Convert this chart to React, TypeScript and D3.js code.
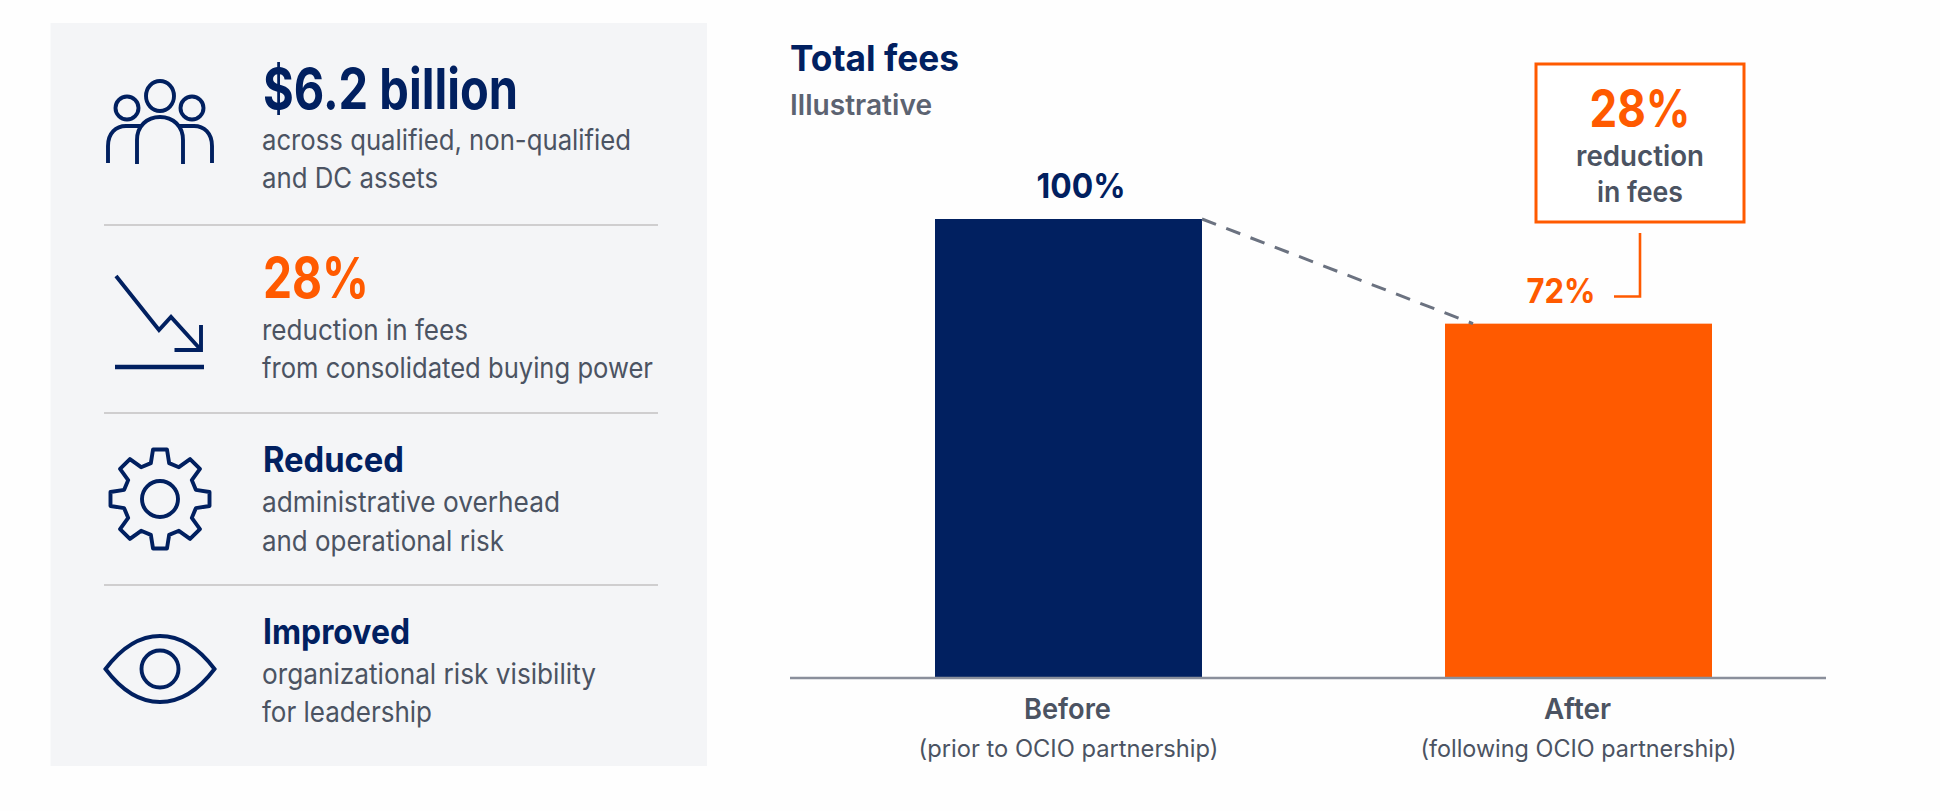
import React, { FC } from "react"
import { scaleBand, scaleLinear, line, range } from "d3"

// chart data
const categories = ["Before", "After"]
const categoryNotes = ["(prior to OCIO partnership)", "(following OCIO partnership)"]
// bar heights as drawn in the picture (the After bar is drawn taller than its 72% label)
const barHeights = [100, 77.2]
const barLabels = ["100%", "72%"]

const statHeads = ["$6.2 billion", "28%", "Reduced", "Improved"]
const statLines = [
  ["across qualified, non-qualified", "and DC assets"],
  ["reduction in fees", "from consolidated buying power"],
  ["administrative overhead", "and operational risk"],
  ["organizational risk visibility", "for leadership"],
]

const navy = "#012060"
const orange = "#ff5a00"
const gray = "#4b5362"
const font = "Inter, 'Noto Sans', sans-serif"

const gearPath = () => {
  const pts: [number, number][] = []
  range(8).forEach((i) => {
    const a = (i * Math.PI) / 4 - Math.PI / 2
    const at = (r: number, da: number): [number, number] => [
      Math.cos(a + da) * r,
      Math.sin(a + da) * r,
    ]
    pts.push(at(37, -0.25), at(50, -0.14), at(50, 0.14), at(37, 0.25))
  })
  return line()(pts) + "Z"
}

// text squeezed to the measured width, the reference face is narrower than Inter
const Label: FC<{
  x: number
  y: number
  w: number
  size: number
  weight?: number
  color?: string
  mid?: boolean
  children: string
}> = ({ x, y, w, size, weight = 400, color = gray, mid, children }) => (
  <text
    x={x}
    y={y}
    fontSize={size}
    fontWeight={weight}
    fill={color}
    textAnchor={mid ? "middle" : "start"}
    textLength={w}
    lengthAdjust="spacingAndGlyphs"
  >
    {children}
  </text>
)

const App: FC = () => {
  const x = scaleBand<string>().domain(categories).range([935, 1712]).paddingInner(0.4765)
  const y = scaleLinear().domain([0, 100]).range([678, 219])
  const iconStroke = { fill: "none", stroke: navy, strokeWidth: 3.9 }

  const heads = [
    { y: 109, size: 56, color: navy, w: 255 },
    { y: 298, size: 56, color: orange, w: 106 },
    { y: 472, size: 35, color: navy, w: 141 },
    { y: 644, size: 35, color: navy, w: 147 },
  ]
  const lineYs = [
    [150, 188],
    [340, 378],
    [512, 551],
    [684, 722],
  ]
  const lineWs = [
    [369, 176],
    [206, 391],
    [298, 242],
    [334, 170],
  ]
  const noteWs = [300, 316]
  const catWs = [87, 67]

  const barRight = x("Before")! + x.bandwidth()
  const dashEnd = x("After")! + 28

  return (
    <svg
      width={1940}
      height={811}
      style={{ position: "absolute", left: 0, top: 0, background: "#fefefe" }}
      fontFamily={font}
    >
      {/* left panel */}
      <rect x={50.5} y={23} width={656.5} height={743} fill="#f4f5f7" />
      {[225, 413, 585].map((d) => (
        <line key={d} x1={104} x2={658} y1={d} y2={d} stroke="#cfcecf" strokeWidth={2} />
      ))}

      {statHeads.map((d, i) => (
        <g key={d}>
          <Label x={263} y={heads[i].y} w={heads[i].w} size={heads[i].size} weight={700} color={heads[i].color}>
            {d}
          </Label>
          {statLines[i].map((t, j) => (
            <Label key={t} x={262} y={lineYs[i][j]} w={lineWs[i][j]} size={28}>
              {t}
            </Label>
          ))}
        </g>
      ))}

      {/* people icon */}
      <g {...iconStroke}>
        <ellipse cx={160} cy={96} rx={14} ry={15} />
        <circle cx={127} cy={108} r={11.5} />
        <circle cx={192} cy={108} r={11.5} />
        <path d="M137 164V140C137 126 147 117 160 117C173 117 183 126 183 140V164" />
        <path d="M108 163V146C108 133 116 126 126 126H142" />
        <path d="M212 163V146C212 133 204 126 194 126H178" />
      </g>

      {/* falling arrow icon */}
      <g {...iconStroke}>
        <path d="M116 276L159 330L171 317L201 350" />
        <path d="M201 325V350H174.5" />
        <path d="M115 367H204" strokeWidth={4.4} />
      </g>

      {/* gear icon */}
      <g {...iconStroke} transform="translate(160,499)">
        <path d={gearPath()} strokeLinejoin="round" />
        <circle r={18} />
      </g>

      {/* eye icon */}
      <g {...iconStroke} transform="translate(160,669)">
        <path d="M-54.5 0C-38 -22 -20 -33 0 -33C20 -33 38 -22 54.5 0C38 22 20 33 0 33C-20 33 -38 22 -54.5 0Z" />
        <circle r={18.5} />
      </g>

      {/* chart titles */}
      <Label x={790} y={71} w={169} size={36} weight={700} color={navy}>
        Total fees
      </Label>
      <Label x={790} y={115} w={142} size={28} weight={600} color="#5c6371">
        Illustrative
      </Label>

      {/* bars */}
      {categories.map((d, i) => (
        <rect
          key={d}
          x={x(d)}
          y={y(barHeights[i])}
          width={x.bandwidth()}
          height={y(0) - y(barHeights[i])}
          fill={i === 0 ? navy : orange}
        />
      ))}
      <line x1={790} x2={1826} y1={y(0)} y2={y(0)} stroke="#8a8f9b" strokeWidth={2.4} />

      <line
        x1={barRight}
        y1={y(barHeights[0])}
        x2={dashEnd}
        y2={y(barHeights[1])}
        stroke="#6b7280"
        strokeWidth={3}
        strokeDasharray="15 11"
      />

      <Label x={1081} y={198} w={89} size={34} weight={700} color={navy} mid>
        {barLabels[0]}
      </Label>
      <Label x={1561} y={303} w={69} size={34} weight={700} color={orange} mid>
        {barLabels[1]}
      </Label>

      {/* category labels */}
      {categories.map((d, i) => {
        const cx = x(d)! + x.bandwidth() / 2
        return (
          <g key={d}>
            <Label x={cx - 1} y={719} w={catWs[i]} size={29} weight={600} mid>
              {d}
            </Label>
            <Label x={cx} y={757} w={noteWs[i]} size={24} mid>
              {categoryNotes[i]}
            </Label>
          </g>
        )
      })}

      {/* callout */}
      <rect x={1536} y={64} width={208} height={158} fill="#fff" stroke={orange} strokeWidth={3} />
      <Label x={1640} y={127} w={101} size={52} weight={700} color={orange} mid>
        28%
      </Label>
      <Label x={1640} y={166} w={128} size={28} weight={600} mid>
        reduction
      </Label>
      <Label x={1640} y={202} w={86} size={28} weight={600} mid>
        in fees
      </Label>
      <path d="M1640 233V296.5H1614" fill="none" stroke={orange} strokeWidth={2.6} />
    </svg>
  )
}

export default App
